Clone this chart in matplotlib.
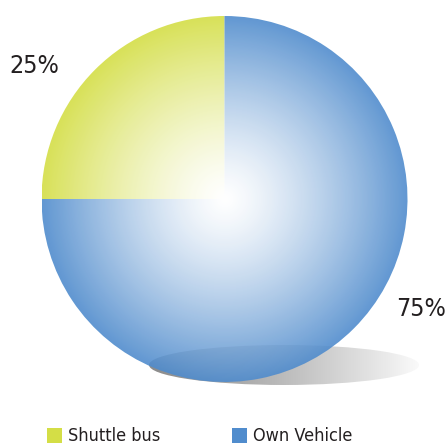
import numpy as np
import matplotlib.pyplot as plt
from matplotlib.colors import to_rgb
from matplotlib.patches import Ellipse, Rectangle

# commute mode shares
categories = ['Shuttle bus', 'Own Vehicle']
shares = [25, 75]
edge_colors = ['#d4de46', '#508ccd']

W, H = 446, 445
fig = plt.figure(figsize=(W / 100, H / 100), dpi=100)
ax = fig.add_axes([0, 0, 1, 1])

cx, cy, R = 224.5, H - 199, 183

# soft floor shadow, dark on the left fading out to the right
sh = Ellipse((284, H - 365), 270, 40, facecolor='none', edgecolor='none')
ax.add_patch(sh)
gx = np.linspace(0, 1, 256)
shade = np.ones((2, 256, 4))
shade[..., :3] = (0.55 + 0.43 * gx ** 1.2)[None, :, None]
im = ax.imshow(shade, extent=(149, 419, H - 385, H - 345), zorder=1,
               interpolation='bilinear')
im.set_clip_path(sh)

wedges, _ = ax.pie(shares, center=(cx, cy), radius=R, startangle=90,
                   counterclock=True, frame=True,
                   wedgeprops=dict(facecolor='none', edgecolor='none'))
ax.set_xlim(0, W)
ax.set_ylim(0, H)
ax.set_aspect('equal')
ax.axis('off')

# radial gradient, white in the middle to full colour at the rim
n = 400
yy, xx = np.mgrid[-1:1:n * 1j, -1:1:n * 1j]
t = np.clip(np.hypot(xx, yy), 0, 1) ** 1.3
for w, col in zip(wedges, edge_colors):
    rgb = np.array(to_rgb(col))
    img = np.ones((n, n, 4))
    img[..., :3] = 1 - t[..., None] * (1 - rgb)
    img[..., 3] = 0.9
    g = ax.imshow(img, extent=(cx - R, cx + R, cy - R, cy + R), zorder=2,
                  interpolation='bilinear')
    g.set_clip_path(w)

font = dict(family='DejaVu Sans', fontstretch='condensed', color='#231f20')
ax.text(34, H - 66, f'{shares[0]}%', fontsize=18, ha='center', va='center', **font)
ax.text(421, H - 309, f'{shares[1]}%', fontsize=18, ha='center', va='center', **font)

# legend row along the bottom edge
for i, (lab, col) in enumerate(zip(categories, edge_colors)):
    x0 = 47 + i * 185
    ax.add_patch(Rectangle((x0, H - 443), 15, 15, facecolor=col, edgecolor='none'))
    ax.text(x0 + 21, H - 436, lab, fontsize=13, ha='left', va='center', **font)

fig.savefig('out.png', dpi=100)
